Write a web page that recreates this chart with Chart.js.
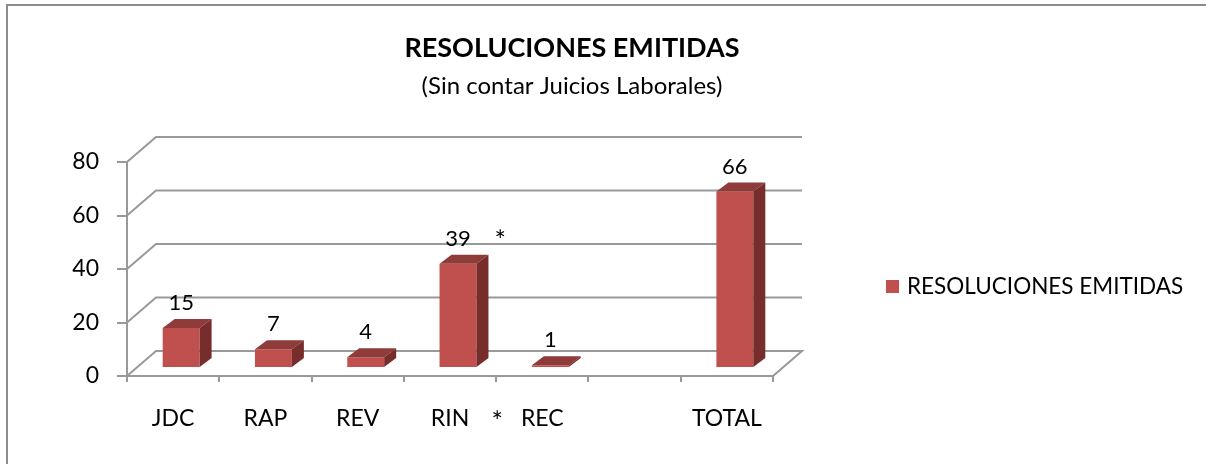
<!DOCTYPE html>
<html>
<head>
<meta charset="utf-8">
<script src="https://cdn.jsdelivr.net/npm/chart.js@4.4.1/dist/chart.umd.min.js"></script>
<style>
  html, body { margin: 0; padding: 0; background: #fff; }
  #contenedor { position: relative; width: 1206px; height: 464px; }
</style>
</head>
<body>
<div id="contenedor"><canvas id="grafico" width="1206" height="464"></canvas></div>
<script>
// Datos del gráfico
const categorias = ['JDC', 'RAP', 'REV', 'RIN', 'REC', '', 'TOTAL'];
const resoluciones = [15, 7, 4, 39, 1, null, 66];
const ticksY = [0, 20, 40, 60, 80];
const titulo = 'RESOLUCIONES EMITIDAS';
const subtitulo = '(Sin contar Juicios Laborales)';
const nombreSerie = 'RESOLUCIONES EMITIDAS';

const fuente = 'Lato, "Open Sans", sans-serif';
const rojo = '#c0504d';
const rojoArriba = '#8f3b39';
const rojoLado = '#772d2b';
const gris = '#999999';

// profundidad de la "pared" del fondo y de las barras (efecto 3D)
const fondo = { dx: 29, dy: -25 };
const barra3d = { dx: 12, dy: -9 };
const corrimiento = { dx: 8, dy: -8 };

// Pared del fondo, piso, caras 3D de las barras y etiquetas
const efecto3d = {
  id: 'efecto3d',
  beforeDraw(chart) {
    const ctx = chart.ctx;
    ctx.save();
    // marco exterior
    ctx.strokeStyle = '#8c8c8c';
    ctx.lineWidth = 2;
    ctx.beginPath();
    ctx.moveTo(7, 464);
    ctx.lineTo(7, 5);
    ctx.lineTo(1206, 5);
    ctx.stroke();
    // título y subtítulo
    ctx.fillStyle = '#000';
    ctx.textAlign = 'center';
    ctx.textBaseline = 'middle';
    ctx.font = 'bold 27px ' + fuente;
    ctx.fillText(titulo, 572, 48);
    ctx.font = '24px ' + fuente;
    ctx.fillText(subtitulo, 572, 86);
    // leyenda
    ctx.fillStyle = rojo;
    ctx.fillRect(886, 280, 13, 13);
    ctx.fillStyle = '#000';
    ctx.textAlign = 'left';
    ctx.font = '22.5px ' + fuente;
    ctx.fillText(nombreSerie, 907, 287);
    ctx.restore();
  },
  beforeDatasetsDraw(chart) {
    const ctx = chart.ctx;
    const { left, right } = chart.chartArea;
    const y = chart.scales.y;
    ctx.save();
    ctx.strokeStyle = gris;
    ctx.lineWidth = 2;
    ticksY.forEach(v => {
      const py = y.getPixelForValue(v);
      ctx.beginPath();
      ctx.moveTo(left, py);
      ctx.lineTo(left + fondo.dx, py + fondo.dy);
      ctx.lineTo(right + fondo.dx, py + fondo.dy);
      if (v === 0) ctx.lineTo(right, py);
      ctx.stroke();
    });
    ctx.restore();
    // las barras van a media profundidad
    ctx.save();
    ctx.translate(corrimiento.dx, corrimiento.dy);
  },
  afterDatasetsDraw(chart) {
    const ctx = chart.ctx;
    const meta = chart.getDatasetMeta(0);
    meta.data.forEach((bar, i) => {
      if (resoluciones[i] == null) return;
      const w = bar.width;
      const l = bar.x - w / 2, r = bar.x + w / 2;
      // cara superior
      ctx.fillStyle = rojoArriba;
      ctx.beginPath();
      ctx.moveTo(l, bar.y);
      ctx.lineTo(l + barra3d.dx, bar.y + barra3d.dy);
      ctx.lineTo(r + barra3d.dx, bar.y + barra3d.dy);
      ctx.lineTo(r, bar.y);
      ctx.closePath();
      ctx.fill();
      // cara lateral
      ctx.fillStyle = rojoLado;
      ctx.beginPath();
      ctx.moveTo(r, bar.y);
      ctx.lineTo(r + barra3d.dx, bar.y + barra3d.dy);
      ctx.lineTo(r + barra3d.dx, bar.base + barra3d.dy);
      ctx.lineTo(r, bar.base);
      ctx.closePath();
      ctx.fill();
      // etiqueta del valor
      ctx.fillStyle = '#000';
      ctx.font = '22px ' + fuente;
      ctx.textAlign = 'center';
      ctx.textBaseline = 'middle';
      ctx.fillText(String(resoluciones[i]), bar.x, bar.y - 25);
    });
    ctx.restore();
  },
  afterDraw(chart) {
    // asteriscos entre RIN y REC
    const ctx = chart.ctx;
    const x = chart.scales.x;
    const y = chart.scales.y;
    const limite = (x.getPixelForValue(3) + x.getPixelForValue(4)) / 2;
    ctx.save();
    ctx.fillStyle = '#000';
    ctx.font = '27px ' + fuente;
    ctx.textAlign = 'center';
    ctx.textBaseline = 'middle';
    ctx.fillText('*', limite + 4, y.getPixelForValue(resoluciones[3]) + corrimiento.dy - 22);
    ctx.fillText('*', limite + 1, 422);
    ctx.restore();
  }
};

const ctx = document.getElementById('grafico').getContext('2d');
new Chart(ctx, {
  type: 'bar',
  data: {
    labels: categorias,
    datasets: [{
      label: nombreSerie,
      data: resoluciones,
      backgroundColor: rojo,
      borderWidth: 0,
      categoryPercentage: 0.4,
      barPercentage: 1,
      clip: false
    }]
  },
  options: {
    responsive: false,
    animation: false,
    layout: { padding: { top: 162, left: 0, right: 433, bottom: 0 } },
    plugins: {
      legend: { display: false },
      title: { display: false },
      tooltip: { enabled: false }
    },
    scales: {
      y: {
        min: 0,
        max: 80,
        afterFit(s) { s.width = 127; },
        afterBuildTicks(s) { s.ticks = ticksY.map(v => ({ value: v })); },
        ticks: { color: '#000', font: { family: fuente, size: 23 }, padding: 18 },
        grid: { drawOnChartArea: false, color: gris, lineWidth: 2, tickLength: 10 },
        border: { color: gris, width: 2 }
      },
      x: {
        afterFit(s) { s.height = 88; },
        ticks: { color: '#000', font: { family: fuente, size: 23 }, padding: 23 },
        grid: { drawOnChartArea: false, color: gris, lineWidth: 2, tickLength: 6 },
        border: { color: gris, width: 2 }
      }
    }
  },
  plugins: [efecto3d]
});
</script>
</body>
</html>
